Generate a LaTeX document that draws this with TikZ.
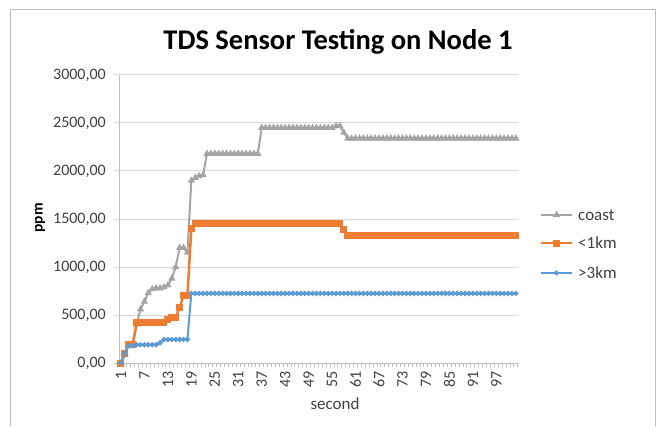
\documentclass[tikz,border=0pt]{standalone}
\usepackage{fontspec}
\setmainfont{Carlito}
\usetikzlibrary{shapes.geometric}

\definecolor{coastgray}{HTML}{A5A5A5}
\definecolor{nearorange}{HTML}{ED7D31}
\definecolor{farblue}{HTML}{5B9BD5}
\definecolor{gridgray}{HTML}{D9D9D9}
\definecolor{axisgray}{HTML}{BFBFBF}
\definecolor{labelgray}{HTML}{404040}

% series as first/last second/value runs
\newcommand\coastdata{1/1/0, 2/2/100, 3/3/180, 4/4/190, 5/5/400, 6/6/560, 7/7/640, 8/8/730, 9/9/770, 10/11/780, 12/12/790, 13/13/810, 14/14/880, 15/15/1000, 16/17/1200, 18/18/1150, 19/19/1900, 20/20/1930, 21/21/1950, 22/22/1960, 23/36/2180, 37/55/2450, 56/57/2470, 58/58/2400, 59/102/2340}
\newcommand\neardata{1/1/0, 2/2/100, 3/4/190, 5/12/420, 13/13/450, 14/15/470, 16/16/580, 17/18/700, 19/19/1400, 20/57/1450, 58/58/1390, 59/102/1330}
\newcommand\fardata{1/1/0, 2/2/100, 3/4/180, 5/10/190, 11/11/210, 12/18/245, 19/102/725}

\begin{document}
\begin{tikzpicture}[x=1pt,y=1pt,
  gridline/.style={draw=gridgray,line width=1pt},
  axisline/.style={draw=axisgray,line width=1pt},
  coastline/.style={draw=coastgray,line width=2pt,line join=round},
  nearline/.style={draw=nearorange,line width=2.5pt,line join=round},
  farline/.style={draw=farblue,line width=2pt,line join=round},
  coastmark/.style={regular polygon,regular polygon sides=3,fill=coastgray,inner sep=0pt,minimum size=8.5pt},
  nearmark/.style={rectangle,fill=nearorange,inner sep=0pt,minimum size=7pt},
  farmark/.style={diamond,fill=farblue,inner sep=0pt,minimum size=6pt},
  axislabel/.style={font=\fontsize{16}{16}\selectfont,text=labelgray,inner sep=0pt},
  legendlabel/.style={font=\fontsize{17}{17}\selectfont,text=labelgray,anchor=west,inner sep=0pt}]
\useasboundingbox (0,0) rectangle (660,426);
\draw[axisgray] (10,0) -- (10,417) -- (655,417) -- (655,0);

\node[font=\fontsize{28.5}{28.5}\bfseries\selectfont] (title) at (338,384) {TDS Sensor Testing on Node 1};

% value axis
\foreach \v/\t in {1/500,2/1000,3/1500,4/2000,5/2500,6/3000}
  \draw[gridline] (114,{63+48*\v}) -- (518,{63+48*\v});
\foreach \v/\t in {0/0,1/500,2/1000,3/1500,4/2000,5/2500,6/3000}
  \node[axislabel,anchor=east] (ylab-\v) at (106,{63+48*\v}) {\t,00};
\draw[axisline] (119,63) -- (119,351);
\draw[axisline] (114,63) -- (518,63);
\node[font=\fontsize{15.5}{15.5}\bfseries\selectfont,rotate=90] (ppm) at (40,208) {ppm};

% category axis
\foreach \i in {1,7,...,97}
  \node[axislabel,rotate=90,anchor=east] (xlab-\i) at ({117.045+3.91*\i},55) {\i};
\node[font=\fontsize{17}{17}\selectfont,text=labelgray] (second) at (335,22) {second};

\begin{scope}[shift={(117.045pt,63pt)},x=3.91pt,y=0.096pt]
  \foreach \k in {0,...,102}
    \draw[axisline] (\k+0.5,0) -- ++(0pt,-4pt);
  \draw[coastline] (1,0) \foreach \a/\b/\v in \coastdata {-- (\a,\v) -- (\b,\v)};
  \foreach \a/\b/\v in \coastdata {\foreach \i in {\a,...,\b} \node[coastmark] (coast-\i) at (\i,\v) {};}
  \draw[nearline] (1,0) \foreach \a/\b/\v in \neardata {-- (\a,\v) -- (\b,\v)};
  \foreach \a/\b/\v in \neardata {\foreach \i in {\a,...,\b} \node[nearmark] (near-\i) at (\i,\v) {};}
  \draw[farline] (1,0) \foreach \a/\b/\v in \fardata {-- (\a,\v) -- (\b,\v)};
  \foreach \a/\b/\v in \fardata {\foreach \i in {\a,...,\b} \node[farmark] (far-\i) at (\i,\v) {};}
\end{scope}

% legend
\coordinate (lcoast) at (541,211);
\coordinate (lnear) at (541,183);
\coordinate (lfar) at (541,153);
\draw[coastline] (lcoast) -- ++(31,0);
\node[coastmark] (lcoast-mark) at ([xshift=15.5pt]lcoast) {};
\node[legendlabel] (lcoast-text) at ([xshift=37pt]lcoast) {coast};
\draw[nearline] (lnear) -- ++(31,0);
\node[nearmark] (lnear-mark) at ([xshift=15.5pt]lnear) {};
\node[legendlabel] (lnear-text) at ([xshift=37pt]lnear) {<1km};
\draw[farline] (lfar) -- ++(31,0);
\node[farmark] (lfar-mark) at ([xshift=15.5pt]lfar) {};
\node[legendlabel] (lfar-text) at ([xshift=37pt]lfar) {>3km};
\end{tikzpicture}
\end{document}
